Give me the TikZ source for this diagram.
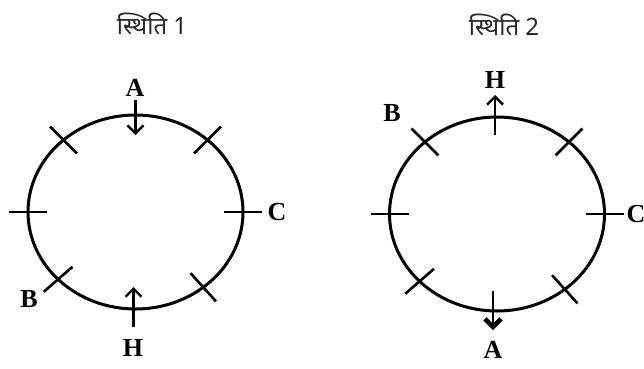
\documentclass[tikz,border=0pt]{standalone}
\usepackage{fontspec}
\setmainfont{Liberation Serif}
\newfontfamily\devafont[Script=Devanagari]{Noto Sans}
\usetikzlibrary{calc,arrows.meta,shapes.geometric}
\begin{document}
\begin{tikzpicture}[x=1pt,y=-1pt,
  ring/.style={draw, ellipse, line width=3pt, minimum width=215pt, minimum height=194pt, inner sep=0pt, outer sep=0pt},
  tickmark/.style={line width=2.6pt},
  lbl/.style={font=\fontsize{26}{26}\selectfont\bfseries, inner sep=0pt},
  ttl/.style={font=\devafont\fontsize{24}{24}\selectfont, text=black!85, inner sep=0pt},
  arr/.style={line width=2.6pt, -{Straight Barb[length=8pt,width=16pt,line width=2.4pt]}},
  arrbold/.style={line width=2.8pt, -{Straight Barb[length=8pt,width=16pt,line width=4.5pt]}}]
\useasboundingbox (0,0) rectangle (644,368);

% titles
\node[ttl] (t1) at (152,24) {स्थिति 1};
\node[ttl] (t2) at (504,25) {स्थिति 2};

% circles
\node[ring] (c1) at (135.5,212) {};
\node[ring] (c2) at (497,214) {};

% ticks
\foreach \c in {c1,c2}{
  \foreach \a in {135,45,0,180,221,312}{
    \draw[tickmark] ($(\c.\a)!19pt!(\c.center)$) -- ($(\c.\a)!-19pt!(\c.center)$);
  }
}

% labels, state 1
\node[lbl] (a1) at (135,88) {A};
\node[lbl] (cc1) at (277,212) {C};
\node[lbl] (b1) at (29,299) {B};
\node[lbl] (h1) at (133,348) {H};
% labels, state 2
\node[lbl] (h2) at (495,80) {H};
\node[lbl] (b2) at (392,113) {B};
\node[lbl] (cc2) at (636,214) {C};
\node[lbl] (a2) at (493,350) {A};

% arrows, state 1
\draw[arr] ([yshift=15pt]c1.north) -- ([yshift=-20pt]c1.north);
\draw[arr] ([yshift=-18pt,xshift=-2pt]c1.south) -- ([yshift=22pt,xshift=-2pt]c1.south);
% arrows, state 2
\draw[arr] ([yshift=-18pt,xshift=-2pt]c2.north) -- ([yshift=22pt,xshift=-2pt]c2.north);
\draw[arrbold] ([yshift=20pt,xshift=-4pt]c2.south) -- ([yshift=-19pt,xshift=-4pt]c2.south);
\end{tikzpicture}
\end{document}
